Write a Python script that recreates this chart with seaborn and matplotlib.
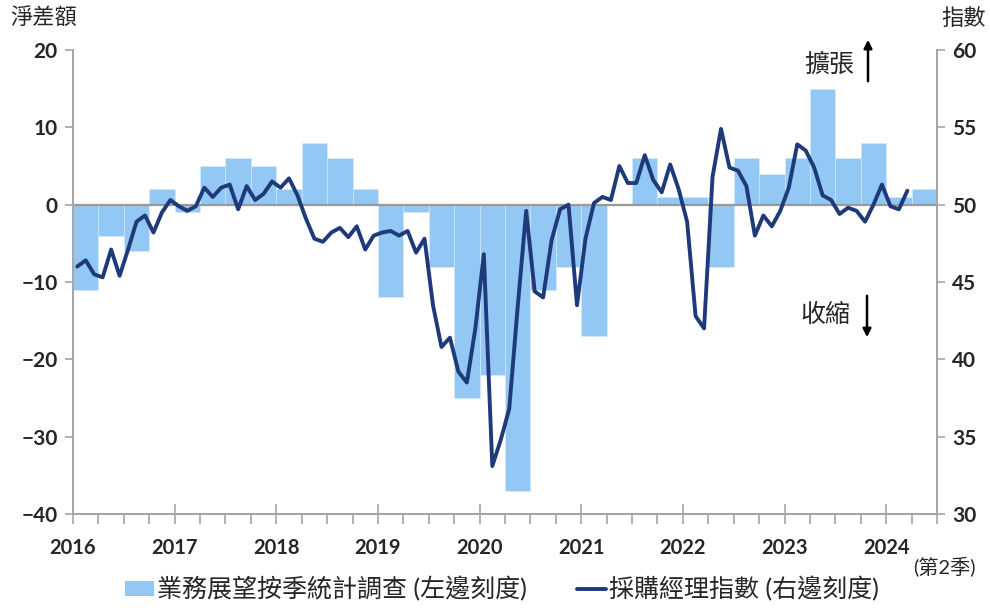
import numpy as np
import pandas as pd
import matplotlib
matplotlib.use('Agg')
import matplotlib.pyplot as plt
import seaborn as sns
from matplotlib.patches import Patch
from matplotlib.lines import Line2D

# Quarterly business outlook survey (net balance, left scale), 2016Q1 - 2024Q2
quarters = pd.period_range('2016Q1', '2024Q2', freq='Q')
outlook = [-11, -4, -6, 2, -1, 5, 6, 5, 2, 8, 6, 2,
           -12, -1, -8, -25, -22, -37, -11, -8, -17, 0, 6, 1,
           1, -8, 6, 4, 6, 15, 6, 8, 1, 2]

# Monthly PMI (right scale), 2016-01 - 2024-03
months = pd.period_range('2016-01', '2024-03', freq='M')
pmi = [46.0, 46.4, 45.5, 45.3, 47.1, 45.4, 47.1, 48.9, 49.3, 48.2, 49.5, 50.3,
       49.9, 49.6, 49.9, 51.1, 50.5, 51.1, 51.3, 49.7, 51.2, 50.3, 50.7, 51.5,
       51.1, 51.7, 50.6, 49.1, 47.8, 47.6, 48.2, 48.5, 47.9, 48.6, 47.1, 48.0,
       48.2, 48.3, 48.0, 48.3, 46.9, 47.8, 43.5, 40.8, 41.4, 39.2, 38.5, 42.0,
       46.8, 33.1, 34.8, 36.8, 43.4, 49.6, 44.4, 44.0, 47.7, 49.7, 50.0, 43.5,
       47.8, 50.1, 50.5, 50.3, 52.5, 51.4, 51.4, 53.2, 51.6, 50.8, 52.6, 51.0,
       48.9, 42.8, 42.0, 51.8, 54.9, 52.4, 52.2, 51.2, 48.0, 49.3, 48.6, 49.6,
       51.1, 53.9, 53.5, 52.4, 50.6, 50.3, 49.4, 49.8, 49.6, 48.9, 50.0, 51.3,
       49.9, 49.7, 50.9]

years = list(range(2016, 2025))
year_labels = [str(y) for y in years]

bar_label = '業務展望按季統計調查 (左邊刻度)'
line_label = '採購經理指數 (右邊刻度)'

df_q = pd.DataFrame({'t': quarters.year + (quarters.quarter - 1) / 4 + 0.125,
                     'v': outlook})
df_m = pd.DataFrame({'t': months.year + (months.month - 1) / 12 + 1 / 24,
                     'v': pmi})

sns.set_theme(style='white')
plt.rcParams['font.family'] = ['Lato', 'Noto Sans CJK TC', 'DejaVu Sans']

bar_color = '#92C8F3'
line_color = '#1E3A7B'
axis_color = '#A6A6A6'
text_color = '#262626'

fig = plt.figure(figsize=(9.9, 6.08), dpi=100)
ax = fig.add_axes([73 / 990, 1 - 514 / 608, (937 - 73) / 990, (514 - 50) / 608])

sns.barplot(data=df_q, x='t', y='v', native_scale=True, width=1,
            color=bar_color, saturation=1, edgecolor='#D8ECFB', linewidth=0.4,
            ax=ax)
ax.axhline(0, color='#9A9A9A', lw=1.6, zorder=3)

ax.set_xlim(2016, 2024.5)
ax.set_ylim(-40, 20)
ax.set_yticks(range(-40, 21, 10))
ax.set_xticks(years)
ax.set_xticklabels(year_labels)
ax.set_xticks(np.arange(2016, 2024.51, 0.25), minor=True)
ax.set_xlabel('')
ax.set_ylabel('')

ax2 = ax.twinx()
sns.lineplot(data=df_m, x='t', y='v', color=line_color, lw=2.8, sort=False,
             ax=ax2)
ax2.set_ylim(30, 60)
ax2.set_yticks(range(30, 61, 5))
ax2.set_xlim(2016, 2024.5)
ax2.set_ylabel('')

for a in (ax, ax2):
    a.spines['top'].set_visible(False)
    for s in ('left', 'right', 'bottom'):
        a.spines[s].set_color(axis_color)
        a.spines[s].set_linewidth(1.3)

ax.tick_params(axis='y', which='major', direction='out', length=6, width=1.2,
               color=axis_color, left=True, labelsize=15, labelcolor=text_color,
               pad=5)
ax.tick_params(axis='x', which='major', direction='inout', length=15, width=1.2,
               color=axis_color, bottom=True, labelsize=14.5, labelcolor=text_color,
               pad=10)
ax.tick_params(axis='x', which='minor', direction='out', length=7, width=1.2,
               color=axis_color, bottom=True)
ax2.tick_params(axis='y', direction='out', length=6, width=1.2, color=axis_color,
                right=True, labelsize=15, labelcolor=text_color, pad=5)
for lab in ax.get_xticklabels() + ax.get_yticklabels() + ax2.get_yticklabels():
    lab.set_fontweight('bold')

fig.text(10 / 990, 1 - 18 / 608, '淨差額', fontsize=16, color=text_color,
         ha='left', va='center')
fig.text(986 / 990, 1 - 18 / 608, '指數', fontsize=16, color=text_color,
         ha='right', va='center')
fig.text(976 / 990, 1 - 567 / 608, '(第2季)', fontsize=14.5, color=text_color,
         ha='right', va='center')

fig.text(829 / 990, 1 - 64 / 608, '擴張', fontsize=18, color=text_color,
         ha='center', va='center')
fig.text(825 / 990, 1 - 314 / 608, '收縮', fontsize=18, color=text_color,
         ha='center', va='center')
fig.add_artist(matplotlib.patches.FancyArrowPatch(
    (868 / 990, 1 - 84 / 608), (868 / 990, 1 - 37 / 608),
    transform=fig.transFigure, arrowstyle='-|>', mutation_scale=12,
    color='black', lw=1.8))
fig.add_artist(matplotlib.patches.FancyArrowPatch(
    (867 / 990, 1 - 293 / 608), (867 / 990, 1 - 340 / 608),
    transform=fig.transFigure, arrowstyle='-|>', mutation_scale=12,
    color='black', lw=1.8))

handles = [Patch(facecolor=bar_color, edgecolor='none', label=bar_label),
           Line2D([0], [0], color=line_color, lw=2.8, label=line_label)]
fig.legend(handles=handles, loc='center', bbox_to_anchor=(0.507, 1 - 589 / 608),
           ncol=2, frameon=False, fontsize=18, handlelength=1.15,
           handleheight=0.56, handletextpad=0.12, columnspacing=2.0,
           labelcolor=text_color)

fig.savefig('out.png', dpi=100)
